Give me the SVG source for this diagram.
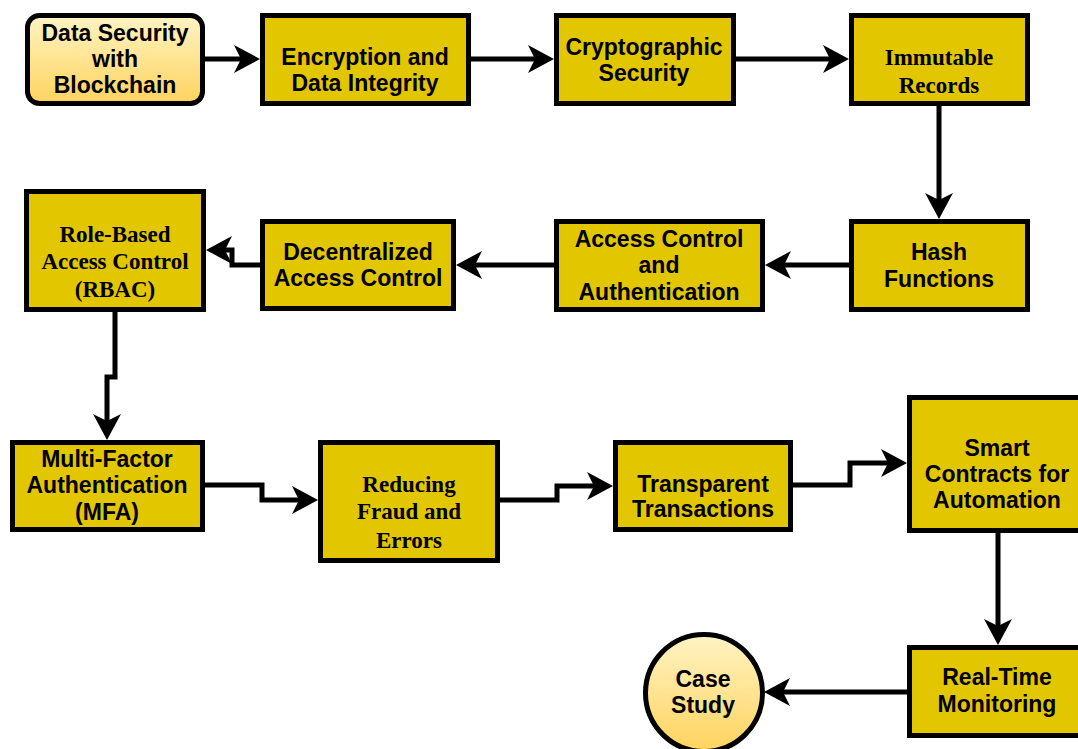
<svg xmlns="http://www.w3.org/2000/svg" width="1078" height="749" viewBox="0 0 1078 749">
<defs>
<linearGradient id="g1" x1="0" y1="0" x2="0" y2="1">
<stop offset="0" stop-color="#fff4c4"/>
<stop offset="1" stop-color="#ffd35e"/>
</linearGradient>
<marker id="arr" markerUnits="userSpaceOnUse" markerWidth="26" markerHeight="28" viewBox="0 0 26 28" refX="16" refY="14" orient="auto">
<path d="M0,0 L26,14 L0,28 L7,14 z" fill="#000"/>
</marker>
<style>
.box{fill:#e2c700;stroke:#000;stroke-width:5}
.start{fill:url(#g1);stroke:#000;stroke-width:5}
.t{font-family:"Liberation Sans",Arial,sans-serif;font-weight:bold;font-size:23px;text-anchor:middle;fill:#000}
.s{font-family:"Liberation Serif","Times New Roman",serif;font-weight:bold;font-size:23px;text-anchor:middle;fill:#000}
.c{fill:none;stroke:#000;stroke-width:5;marker-end:url(#arr)}
</style>
</defs>
<g id="connectors">
<path class="c" d="M204,59 H250"/>
<path class="c" d="M471,59 H544"/>
<path class="c" d="M736,59 H839"/>
<path class="c" d="M939,106 V209"/>
<path class="c" d="M849,265 H775"/>
<path class="c" d="M554,265 H466"/>
<path class="c" d="M260,265 H232 V250 H216"/>
<path class="c" d="M115,312 V377 H107 V430"/>
<path class="c" d="M205,485 H262 V500 H308"/>
<path class="c" d="M500,500 H557 V486 H603"/>
<path class="c" d="M793,485 H850 V463 H897"/>
<path class="c" d="M998,533 V635"/>
<path class="c" d="M907,692 H774"/>
</g>
<g id="n1">
<rect class="start" x="27.5" y="15.5" width="175" height="88" rx="12"/>
<text class="t"><tspan x="115" y="41">Data Security</tspan><tspan x="115" y="67">with</tspan><tspan x="115" y="93">Blockchain</tspan></text>
</g>
<g id="n2">
<rect class="box" x="262.5" y="15.5" width="206" height="88"/>
<text class="t"><tspan x="365" y="65">Encryption and</tspan><tspan x="365" y="91">Data Integrity</tspan></text>
</g>
<g id="n3">
<rect class="box" x="556.5" y="15.5" width="177" height="88"/>
<text class="t"><tspan x="644" y="55">Cryptographic</tspan><tspan x="644" y="81">Security</tspan></text>
</g>
<g id="n4">
<rect class="box" x="851.5" y="15.5" width="176" height="88"/>
<text class="s"><tspan x="939" y="65">Immutable</tspan><tspan x="939" y="93">Records</tspan></text>
</g>
<g id="n5">
<rect class="box" x="851.5" y="221.5" width="176" height="88"/>
<text class="t"><tspan x="939" y="260">Hash</tspan><tspan x="939" y="287">Functions</tspan></text>
</g>
<g id="n6">
<rect class="box" x="556.5" y="221.5" width="206" height="88"/>
<text class="t"><tspan x="659" y="247">Access Control</tspan><tspan x="659" y="273">and</tspan><tspan x="659" y="300">Authentication</tspan></text>
</g>
<g id="n7">
<rect class="box" x="262.5" y="221.5" width="191" height="87"/>
<text class="t"><tspan x="358" y="260">Decentralized</tspan><tspan x="358" y="286">Access Control</tspan></text>
</g>
<g id="n8">
<rect class="box" x="26.5" y="191.5" width="177" height="118"/>
<text class="s"><tspan x="115" y="242">Role-Based</tspan><tspan x="115" y="269">Access Control</tspan><tspan x="115" y="297">(RBAC)</tspan></text>
</g>
<g id="n9">
<rect class="box" x="12.5" y="442.5" width="190" height="87"/>
<text class="t"><tspan x="107" y="467">Multi-Factor</tspan><tspan x="107" y="493">Authentication</tspan><tspan x="107" y="520">(MFA)</tspan></text>
</g>
<g id="n10">
<rect class="box" x="320.5" y="442.5" width="177" height="118"/>
<text class="s"><tspan x="409" y="492">Reducing</tspan><tspan x="409" y="519">Fraud and</tspan><tspan x="409" y="548">Errors</tspan></text>
</g>
<g id="n11">
<rect class="box" x="615.5" y="442.5" width="175" height="87"/>
<text class="t"><tspan x="703" y="492">Transparent</tspan><tspan x="703" y="517">Transactions</tspan></text>
</g>
<g id="n12">
<rect class="box" x="909.5" y="397.5" width="174" height="133"/>
<text class="t"><tspan x="997" y="456">Smart</tspan><tspan x="997" y="482">Contracts for</tspan><tspan x="997" y="508">Automation</tspan></text>
</g>
<g id="n13">
<rect class="box" x="909.5" y="647.5" width="174" height="88"/>
<text class="t"><tspan x="997" y="685">Real-Time</tspan><tspan x="997" y="712">Monitoring</tspan></text>
</g>
<g id="n14">
<circle class="start" cx="704" cy="693" r="58.5"/>
<text class="t"><tspan x="703" y="687">Case</tspan><tspan x="703" y="713">Study</tspan></text>
</g>
</svg>
